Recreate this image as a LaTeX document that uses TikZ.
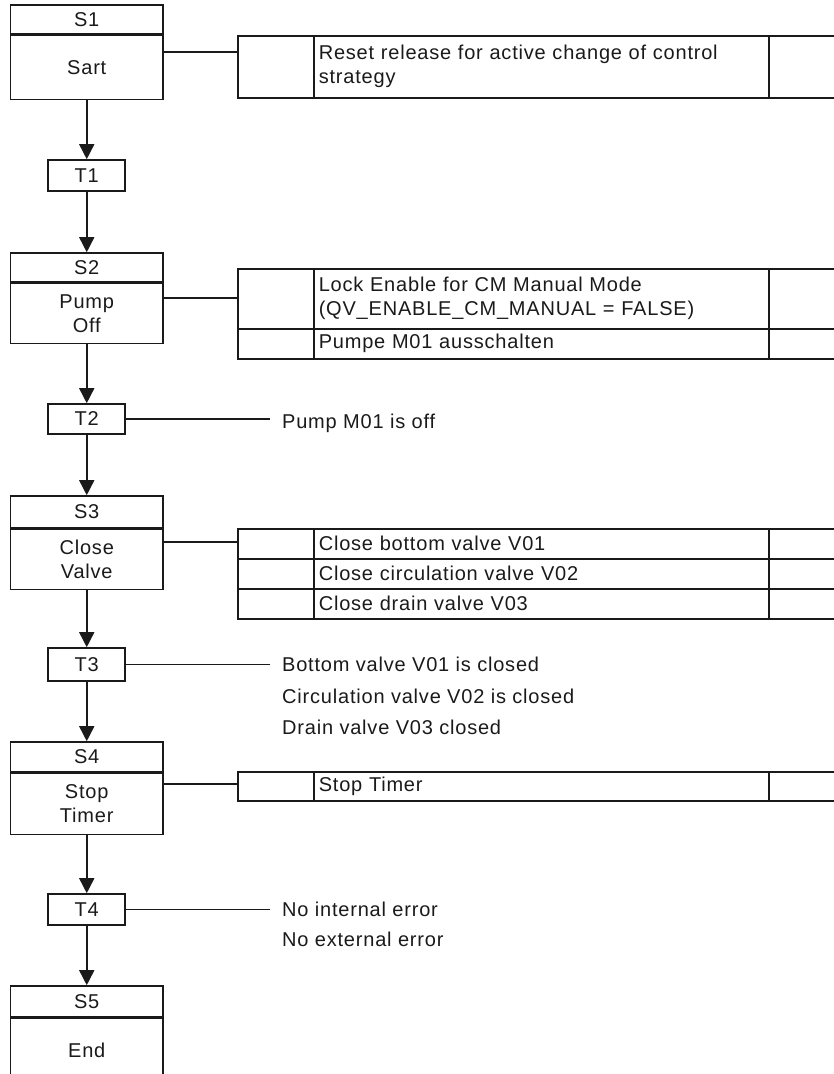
\documentclass[tikz,border=0pt]{standalone}
\usepackage{fontspec}
\setmainfont{Liberation Sans}[LetterSpace=4]
\usetikzlibrary{arrows.meta}
\definecolor{ln}{HTML}{1A1A1A}
\begin{document}
\begin{tikzpicture}[x=1pt,y=-1pt,
  every node/.style={font=\fontsize{20}{24}\selectfont, inner sep=0pt, text=ln},
  box/.style={draw=ln, line width=1.6pt},
  steptitle/.style={box, minimum width=152.5pt},
  stepbody/.style={box, minimum width=152.5pt, anchor=north, align=center},
  trans/.style={box, minimum width=77pt},
  cell/.style={box, anchor=north west},
  txtcell/.style={cell, minimum width=455pt, text width=445pt, inner xsep=5pt, align=left},
  cond/.style={anchor=north west, align=left},
  flow/.style={line width=1.6pt, draw=ln, -{Triangle[width=15pt,length=15pt]}},
  link/.style={line width=1.3pt, draw=ln}]
\useasboundingbox (0,0) rectangle (834,1074);
\clip (0,0) rectangle (834,1074);

% steps
\node[steptitle, minimum height=29pt] (s1t) at (86.75,19.5) {S1};
\node[stepbody, minimum height=64pt] (s1b) at (s1t.south) {Sart};
\node[steptitle, minimum height=29pt] (s2t) at (86.75,267.5) {S2};
\node[stepbody, minimum height=60pt] (s2b) at (s2t.south) {Pump\\Off};
\node[steptitle, minimum height=32pt] (s3t) at (86.75,512) {S3};
\node[stepbody, minimum height=60pt] (s3b) at (s3t.south) {Close\\Valve};
\node[steptitle, minimum height=30pt] (s4t) at (86.75,757) {S4};
\node[stepbody, minimum height=61pt] (s4b) at (s4t.south) {Stop\\Timer};
\node[steptitle, minimum height=31pt] (s5t) at (86.75,1001.5) {S5};
\node[stepbody, minimum height=63pt] (s5b) at (s5t.south) {End};

% transitions
\node[trans, minimum height=31pt] (t1) at (86.75,175.5) {T1};
\node[trans, minimum height=30pt] (t2) at (86.75,419) {T2};
\node[trans, minimum height=33pt] (t3) at (86.75,664.5) {T3};
\node[trans, minimum height=31pt] (t4) at (86.75,909.5) {T4};

% flow
\draw[flow] (s1b.south) -- (t1.north);
\draw[flow] (t1.south) -- (s2t.north);
\draw[flow] (s2b.south) -- (t2.north);
\draw[flow] (t2.south) -- (s3t.north);
\draw[flow] (s3b.south) -- (t3.north);
\draw[flow] (t3.south) -- (s4t.north);
\draw[flow] (s4b.south) -- (t4.north);
\draw[flow] (t4.south) -- (s5t.north);

% action tables
\node[cell, minimum width=76pt, minimum height=62pt] (a1l) at (237,35) {};
\node[txtcell, minimum height=62pt] (a1m) at (313,35) {Reset release for active change of control\\strategy};
\node[cell, minimum width=92pt, minimum height=62pt] (a1r) at (768,35) {};

\node[cell, minimum width=76pt, minimum height=60pt] (a2l) at (237,268) {};
\node[txtcell, minimum height=60pt] (a2m) at (313,268) {Lock Enable for CM Manual Mode\\(QV\_ENABLE\_CM\_MANUAL = FALSE)};
\node[cell, minimum width=92pt, minimum height=60pt] (a2r) at (768,268) {};
\node[cell, minimum width=76pt, minimum height=30pt] (b2l) at (237,328) {};
\node[txtcell, minimum height=30pt] (b2m) at (313,328) {Pumpe M01 ausschalten};
\node[cell, minimum width=92pt, minimum height=30pt] (b2r) at (768,328) {};

\node[cell, minimum width=76pt, minimum height=30pt] (a3l) at (237,528) {};
\node[txtcell, minimum height=30pt] (a3m) at (313,528) {Close bottom valve V01};
\node[cell, minimum width=92pt, minimum height=30pt] (a3r) at (768,528) {};
\node[cell, minimum width=76pt, minimum height=30pt] (b3l) at (237,558) {};
\node[txtcell, minimum height=30pt] (b3m) at (313,558) {Close circulation valve V02};
\node[cell, minimum width=92pt, minimum height=30pt] (b3r) at (768,558) {};
\node[cell, minimum width=76pt, minimum height=30pt] (c3l) at (237,588) {};
\node[txtcell, minimum height=30pt] (c3m) at (313,588) {Close drain valve V03};
\node[cell, minimum width=92pt, minimum height=30pt] (c3r) at (768,588) {};

\node[cell, minimum width=76pt, minimum height=29pt] (a4l) at (237,771) {};
\node[txtcell, minimum height=29pt] (a4m) at (313,771) {Stop Timer};
\node[cell, minimum width=92pt, minimum height=29pt] (a4r) at (768,771) {};

% step-to-action links
\coordinate (k1) at (163,52);
\coordinate (k2) at (163,298);
\coordinate (k3) at (163,542);
\coordinate (k4) at (163,784);
\draw[link] (s1b.east |- k1) -- (a1l.west |- k1);
\draw[link] (s2b.east |- k2) -- (a2l.west |- k2);
\draw[link] (s3b.east |- k3) -- (a3l.west |- k3);
\draw[link] (s4b.east |- k4) -- (a4l.west |- k4);

% transition conditions
\node[cond] (q2) at (282,413.8) {Pump M01 is off};
\node[cond, font=\fontsize{20}{31.3}\selectfont] (q3) at (282,657) {Bottom valve V01 is closed\\Circulation valve V02 is closed\\Drain valve V03 closed};
\node[cond, font=\fontsize{20}{29.4}\selectfont] (q4) at (282,902.2) {No internal error\\No external error};
\draw[link] (t2.east) -- ([xshift=-12pt]q2.west |- t2.east);
\draw[link] (t3.east) -- ([xshift=-12pt]q3.west |- t3.east);
\draw[link] (t4.east) -- ([xshift=-12pt]q4.west |- t4.east);
\end{tikzpicture}
\end{document}
